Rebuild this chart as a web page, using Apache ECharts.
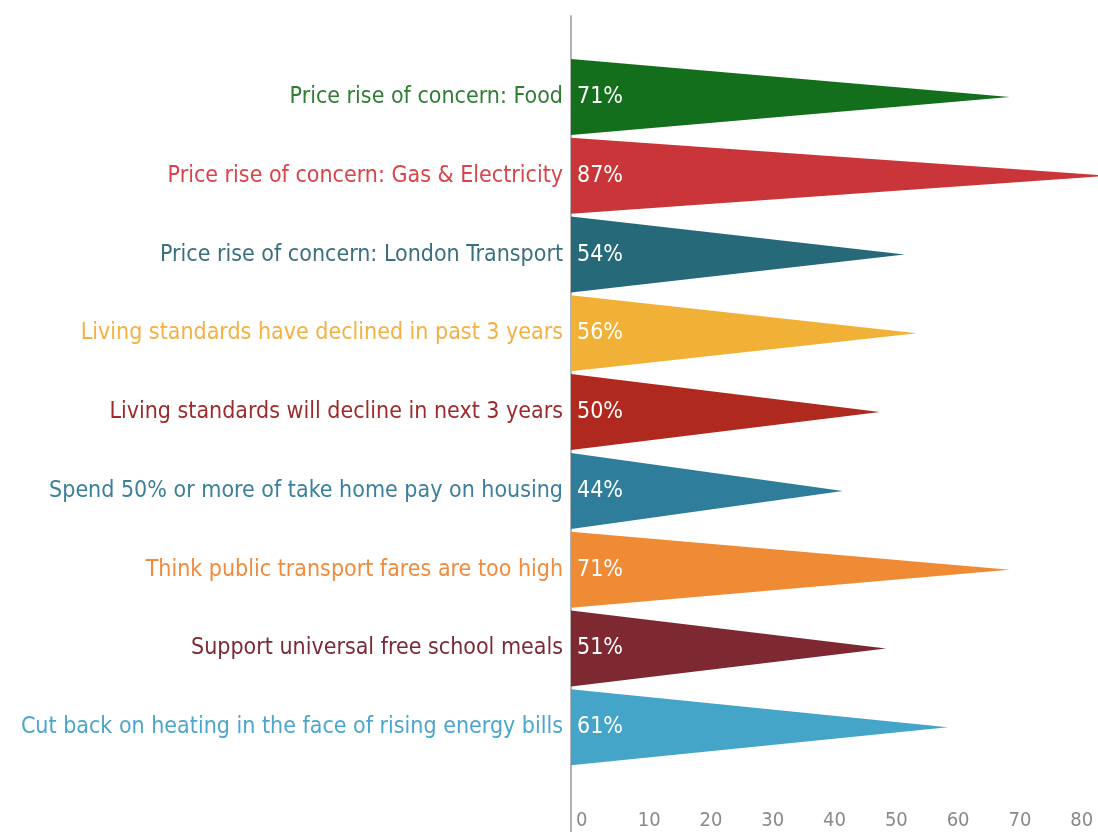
<!DOCTYPE html>
<html>
<head>
<meta charset="utf-8">
<script src="https://cdn.jsdelivr.net/npm/echarts@6/dist/echarts.min.js"></script>
<style>
  html, body { margin: 0; padding: 0; background: #fff; }
  #chart { width: 1098px; height: 832px; }
</style>
</head>
<body>
<div id="chart"></div>
<script>
// ---- data
var categories = [
    'Price rise of concern: Food',
    'Price rise of concern: Gas & Electricity',
    'Price rise of concern: London Transport',
    'Living standards have declined in past 3 years',
    'Living standards will decline in next 3 years',
    'Spend 50% or more of take home pay on housing',
    'Think public transport fares are too high',
    'Support universal free school meals',
    'Cut back on heating in the face of rising energy bills'
];
var values = [71, 87, 54, 56, 50, 44, 71, 51, 61];
var barColors = ['#136f1b', '#c93538', '#266a79', '#f1b136', '#b0291f', '#2e7d9b', '#ef8b35', '#7e2832', '#44a5c9'];
var labelColors = ['#2e7d32', '#d9434a', '#3a6f80', '#f5b041', '#9e2a2b', '#3a7f9c', '#f08a3c', '#7a2a35', '#4aa6cc'];
var xTicks = [0, 10, 20, 30, 40, 50, 60, 70, 80];

var FONT = '"DejaVu Sans Condensed", "Roboto", sans-serif';

var myChart = echarts.init(document.getElementById('chart'));

var option = {
    backgroundColor: '#fff',
    animation: false,
    grid: [
        { left: 571, width: 556, top: 57.6, bottom: 65.4, outerBoundsMode: 'none' },   // bars
        { left: 571, width: 556, top: 16, bottom: 0, outerBoundsMode: 'none' }         // only for the long vertical axis line
    ],
    xAxis: [
        {
            type: 'value',
            gridIndex: 0,
            min: xTicks[0],
            max: 90,
            interval: 10,
            axisLine: { show: false },
            axisTick: { show: false },
            splitLine: { show: false },
            axisLabel: {
                showMaxLabel: false,
                margin: 44,
                align: 'left',
                padding: [0, 0, 0, 5],
                color: '#8a8a8a',
                fontFamily: FONT,
                fontSize: 20,
                formatter: function (v) { return xTicks.indexOf(v) >= 0 ? String(v) : ''; }
            }
        },
        { type: 'value', gridIndex: 1, show: false }
    ],
    yAxis: [
        {
            type: 'category',
            gridIndex: 0,
            data: categories,
            inverse: true,
            axisLine: { show: false },
            axisTick: { show: false },
            axisLabel: {
                margin: 8,
                fontFamily: FONT,
                fontSize: 23,
                color: function (value, index) { return labelColors[index]; }
            }
        },
        {
            type: 'value',
            gridIndex: 1,
            axisLine: { show: true, lineStyle: { color: '#b3b3b3', width: 2 } },
            axisTick: { show: false },
            axisLabel: { show: false },
            splitLine: { show: false }
        }
    ],
    series: [
        {
            type: 'pictorialBar',
            xAxisIndex: 0,
            yAxisIndex: 0,
            symbol: 'path://M0,0 L100,50 L0,100 Z',
            symbolSize: ['100%', 76],
            symbolPosition: 'start',
            data: values.map(function (v, i) {
                return { value: v, itemStyle: { color: barColors[i] } };
            }),
            label: {
                show: true,
                position: 'insideLeft',
                distance: 6,
                formatter: '{c}%',
                color: '#fff',
                fontFamily: FONT,
                fontSize: 23
            }
        }
    ]
};

myChart.setOption(option);
</script>
</body>
</html>
